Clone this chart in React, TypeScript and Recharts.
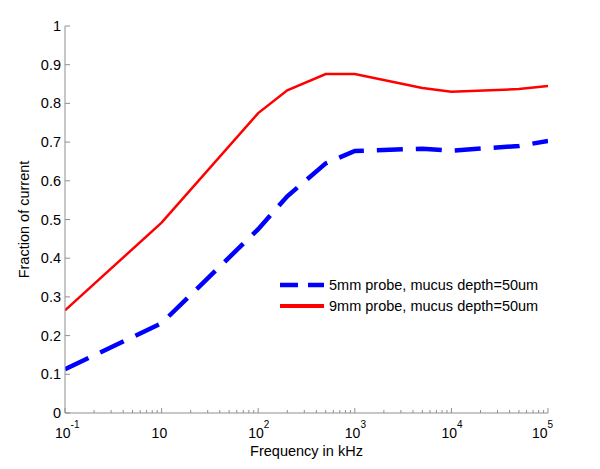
import React from "react"
import { LineChart, Line, XAxis, YAxis, Legend } from "recharts"

// first point is drawn at the "10^-1" tick (the axis labels are relabelled decades)
const frequencies = [1, 10, 100, 200, 500, 1000, 5000, 10000, 50000, 100000]
const probe5mm = [0.113, 0.232, 0.475, 0.56, 0.645, 0.677, 0.683, 0.678, 0.69, 0.703]
const probe9mm = [0.265, 0.492, 0.775, 0.834, 0.876, 0.876, 0.84, 0.83, 0.837, 0.845]

const seriesNames = ["5mm probe, mucus depth=50um", "9mm probe, mucus depth=50um"]

const xMajorTicks = [1, 10, 100, 1000, 10000, 100000]
const xTickBase = ["10", "10", "10", "10", "10", "10"]
const xTickExp = ["-1", "", "2", "3", "4", "5"]
const minorSteps = [2, 3, 4, 5, 6, 7, 8, 9]
const yTicks = [0, 0.1, 0.2, 0.3, 0.4, 0.5, 0.6, 0.7, 0.8, 0.9, 1]

const AXIS = "#8f8f8f"
const FONT = "'Liberation Sans', Arial, sans-serif"

const data = frequencies.map((f, i) => ({ f, p5: probe5mm[i], p9: probe9mm[i] }))
const xAllTicks = xMajorTicks
  .concat(xMajorTicks.slice(0, -1).flatMap((d) => minorSteps.map((s) => d * s)))
  .sort((a, b) => a - b)

function BottomTick({ x, y, payload }: any) {
  const i = xMajorTicks.indexOf(payload.value)
  const major = i >= 0
  const shift = i === xMajorTicks.length - 1 ? -8 : -2
  return (
    <g>
      <line x1={x} x2={x} y1={y} y2={y - (major ? 5 : 3)} stroke={AXIS} />
      {major ? (
        <text x={x + shift - 8} y={y + 25} fontSize={14} fill="#000" fontFamily={FONT}>
          {xTickBase[i]}
          {xTickExp[i] ? (
            <tspan dy={-10} fontSize={10}>
              {xTickExp[i]}
            </tspan>
          ) : null}
        </text>
      ) : null}
    </g>
  )
}

function TopTick({ x, y, payload }: any) {
  const major = xMajorTicks.indexOf(payload.value) >= 0
  return <line x1={x} x2={x} y1={y} y2={y + (major ? 5 : 3)} stroke={AXIS} />
}

function LeftTick({ x, y, payload }: any) {
  return (
    <g>
      <line x1={x} x2={x + 5} y1={y} y2={y} stroke={AXIS} />
      <text x={x - 4} y={y} dy={5} textAnchor="end" fontSize={14.5} fill="#000" fontFamily={FONT}>
        {String(payload.value)}
      </text>
    </g>
  )
}

function RightTick({ x, y }: any) {
  return <line x1={x} x2={x - 5} y1={y} y2={y} stroke={AXIS} />
}

function YLabel({ viewBox }: any) {
  const cx = viewBox.x + 24
  const cy = viewBox.y + viewBox.height / 2
  return (
    <text
      x={cx}
      y={cy}
      transform={`rotate(-90, ${cx}, ${cy})`}
      textAnchor="middle"
      dominantBaseline="central"
      fontSize={14.5}
      fill="#000"
      fontFamily={FONT}
    >
      Fraction of current
    </text>
  )
}

function LegendBox() {
  const rows = [
    { name: seriesNames[0], color: "#0000ff", dash: "18 10", w: 4.5 },
    { name: seriesNames[1], color: "#ff0000", dash: undefined, w: 4 },
  ]
  return (
    <div style={{ fontFamily: FONT, fontSize: 14.5, color: "#000" }}>
      {rows.map((r) => (
        <div key={r.name} style={{ display: "flex", alignItems: "center", height: 21 }}>
          <svg width={44} height={10} style={{ marginRight: 5 }}>
            <line x1={0} x2={44} y1={5} y2={5} stroke={r.color} strokeWidth={r.w} strokeDasharray={r.dash} />
          </svg>
          <span style={{ whiteSpace: "nowrap" }}>{r.name}</span>
        </div>
      ))}
    </div>
  )
}

export default function App() {
  return (
    <div style={{ position: "absolute", left: 0, top: 0, width: 600, height: 469, background: "#fff" }}>
      <LineChart width={600} height={469} data={data} margin={{ top: 26, right: 52, left: 0, bottom: 0 }}>
        <XAxis
          dataKey="f"
          type="number"
          scale="log"
          domain={[1, 100000]}
          allowDataOverflow
          ticks={xAllTicks}
          interval={0}
          height={56}
          tickSize={0}
          tickMargin={0}
          tickLine={false}
          tick={<BottomTick />}
          axisLine={{ stroke: AXIS }}
          label={{
            value: "Frequency in kHz",
            position: "insideBottom",
            offset: 13,
            fill: "#000",
            fontSize: 14.5,
            fontFamily: FONT,
          }}
        />
        <XAxis
          xAxisId="top"
          orientation="top"
          dataKey="f"
          type="number"
          scale="log"
          domain={[1, 100000]}
          allowDataOverflow
          ticks={xAllTicks}
          interval={0}
          height={0}
          tickSize={0}
          tickMargin={0}
          tickLine={false}
          tick={<TopTick />}
          axisLine={{ stroke: AXIS }}
        />
        <YAxis
          type="number"
          domain={[0, 1]}
          ticks={yTicks}
          interval={0}
          width={65}
          tickSize={0}
          tickMargin={0}
          tickLine={false}
          tick={<LeftTick />}
          axisLine={{ stroke: AXIS }}
          label={<YLabel />}
        />
        <YAxis
          yAxisId="right"
          orientation="right"
          type="number"
          domain={[0, 1]}
          ticks={yTicks}
          interval={0}
          width={0}
          tickSize={0}
          tickMargin={0}
          tickLine={false}
          tick={<RightTick />}
          axisLine={{ stroke: AXIS }}
        />
        <Legend
          layout="horizontal"
          verticalAlign="middle"
          content={<LegendBox />}
          wrapperStyle={{ left: 280, top: 274, width: "auto" }}
        />
        <Line
          type="linear"
          dataKey="p5"
          name={seriesNames[0]}
          stroke="#0000ff"
          strokeWidth={4.5}
          strokeDasharray="26 13"
          dot={false}
          isAnimationActive={false}
        />
        <Line
          type="linear"
          dataKey="p9"
          name={seriesNames[1]}
          stroke="#ff0000"
          strokeWidth={2.5}
          dot={false}
          isAnimationActive={false}
        />
      </LineChart>
    </div>
  )
}
